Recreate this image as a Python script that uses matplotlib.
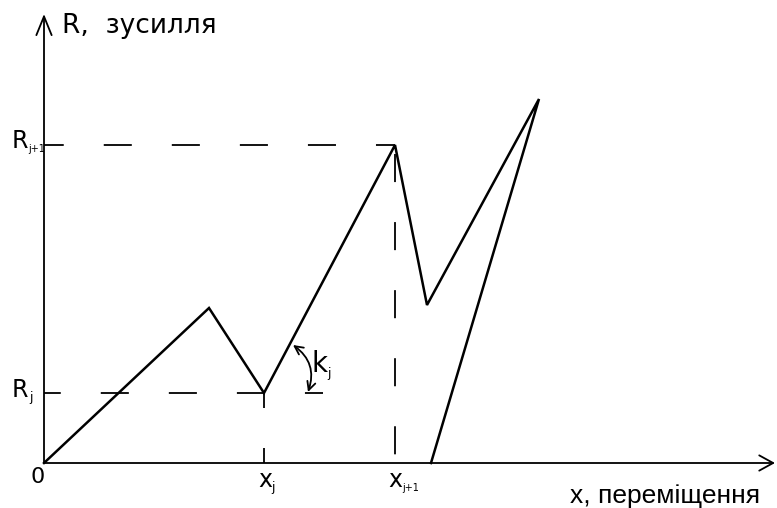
import matplotlib.pyplot as plt
from matplotlib.patches import FancyArrowPatch

# schematic load-displacement path (units: drawing units from origin)
curve_x = [0, 165, 220, 351, 383, 495, 387]
curve_y = [0, 155, 70, 318, 158, 364, 0]

x_j, R_j = 220, 70
x_j1, R_j1 = 351, 318
R_j_dash_end = 279  # lower dashed line runs past x_j
k_from = (249, 118)
k_to = (264, 71)

x_axis_end = 731
y_axis_end = 449

plt.rcParams["lines.scale_dashes"] = False
TECH = "DejaVu Sans"

fig = plt.figure(figsize=(7.77, 5.08), dpi=100)
ax = fig.add_axes([0, 0, 1, 1])
ax.set_xlim(-44, 733)
ax.set_ylim(-45, 463)
ax.axis("off")

# axes with open arrow heads
ax.annotate("", xy=(x_axis_end, 0), xytext=(0, 0),
            arrowprops=dict(arrowstyle="->,head_length=1.0,head_width=0.55",
                            lw=1.3, color="black", shrinkA=0, shrinkB=0))
ax.annotate("", xy=(0, y_axis_end), xytext=(0, 0),
            arrowprops=dict(arrowstyle="->,head_length=1.35,head_width=0.55",
                            lw=1.3, color="black", shrinkA=0, shrinkB=0))

# dashed guide lines (dash 28px, gap 40px)
dash = (20.2, 28.8)
ax.plot([x_j1, 0], [R_j1, R_j1], color="black", lw=1.3, linestyle=(6.5, dash))
ax.plot([R_j_dash_end, 0], [R_j, R_j], color="black", lw=1.3, linestyle=(7.2, dash))
ax.plot([x_j1, x_j1], [R_j1, 0], color="black", lw=1.3, linestyle=(42.5, dash))
ax.plot([x_j, x_j], [R_j, 0], color="black", lw=1.3, linestyle=(9.4, dash))

# main path
ax.plot(curve_x, curve_y, color="black", lw=1.8, solid_joinstyle="miter")

# stiffness arc k_j
arc = FancyArrowPatch(k_from, k_to, connectionstyle="arc3,rad=-0.37",
                      arrowstyle="<->,head_length=6,head_width=3",
                      lw=1.3, color="black", shrinkA=0, shrinkB=0)
ax.add_patch(arc)

# labels
ax.text(18, 430, "R,  зусилля", fontsize=19, family=TECH, ha="left", va="baseline")
ax.text(526, -40, "x, переміщення", fontsize=19, family="Liberation Sans",
        ha="left", va="baseline")
ax.text(-6, -4, "0", fontsize=16, family=TECH, ha="center", va="top")

ax.text(-32, 315, "R", fontsize=17, family=TECH, ha="left", va="baseline")
ax.text(-16, 311, "j+1", fontsize=7, family=TECH, ha="left", va="baseline")
ax.text(-32, 66, "R", fontsize=17, family=TECH, ha="left", va="baseline")
ax.text(-15, 62, "j", fontsize=9, family=TECH, ha="left", va="baseline")

ax.text(214, -24, "x", fontsize=17, family=TECH, ha="left", va="baseline")
ax.text(227.5, -28, "j", fontsize=9, family=TECH, ha="left", va="baseline")
ax.text(344, -24, "x", fontsize=17, family=TECH, ha="left", va="baseline")
ax.text(358, -28, "j+1", fontsize=7, family=TECH, ha="left", va="baseline")

ax.text(268, 91, "k", fontsize=20, family=TECH, ha="left", va="baseline")
ax.text(283, 86, "j", fontsize=9, family=TECH, ha="left", va="baseline")

fig.savefig("out.png", dpi=100)
plt.close(fig)
